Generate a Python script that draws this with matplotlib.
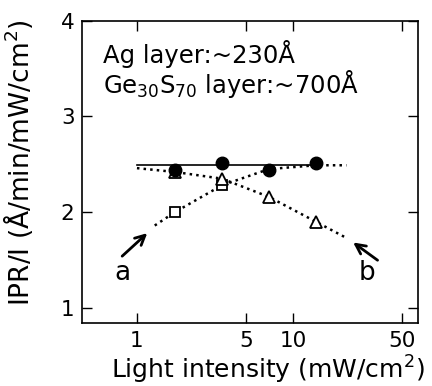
import matplotlib.pyplot as plt
from matplotlib.ticker import FixedLocator, NullLocator

# light intensity (mW/cm^2) and IPR/I values
x_meas = [1.75, 3.5, 7, 14]
ipr_filled = [2.44, 2.51, 2.44, 2.51]
x_sq = [1.75, 3.5]
ipr_sq = [2.0, 2.28]
x_tri = [1.75, 3.5, 7, 14]
ipr_tri = [2.42, 2.35, 2.16, 1.9]

# guide curves
fit_x = [1.0, 14]
fit_y = [2.49, 2.49]
a_x = [1.3, 1.75, 3.5, 7, 14, 22]
a_y = [1.86, 2.0, 2.28, 2.45, 2.49, 2.49]
b_x = [1.0, 1.75, 3.5, 7, 14, 22]
b_y = [2.46, 2.42, 2.35, 2.16, 1.9, 1.73]

xticks = [1, 5, 10, 50]
yticks = [1, 2, 3, 4]

fig = plt.figure(figsize=(4.32, 3.86), dpi=100)
ax = fig.add_axes([0.19, 0.163, 0.777, 0.783])

ax.plot(fit_x, fit_y, "-", color="black", lw=1.2)
ax.plot(a_x, a_y, ":", color="black", lw=1.8)
ax.plot(b_x, b_y, ":", color="black", lw=1.8)

ax.plot(x_sq, ipr_sq, "s", ms=7, mfc="white", mec="black", mew=1.3, ls="none")
ax.plot(x_tri, ipr_tri, "^", ms=8, mfc="white", mec="black", mew=1.3, ls="none")
ax.plot(x_meas, ipr_filled, "o", ms=9, color="black", ls="none")

ax.set_xscale("log")
ax.set_xlim(0.445, 63)
ax.set_ylim(0.84, 4.0)
ax.xaxis.set_major_locator(FixedLocator(xticks))
ax.xaxis.set_minor_locator(NullLocator())
ax.set_xticklabels([str(t) for t in xticks])
ax.set_yticks(yticks)
ax.tick_params(direction="in", top=True, right=True, length=7, width=1,
               labelsize=15.5, pad=5.5)
for s in ax.spines.values():
    s.set_linewidth(1.2)

ax.set_xlabel("Light intensity (mW/cm$^2$)", fontsize=18)
ax.xaxis.label.set_va("baseline")
ax.xaxis.set_label_coords(0.554, -0.183)
ax.set_ylabel("IPR/I (Å/min/mW/cm$^2$)", fontsize=19)
ax.yaxis.set_label_coords(-0.14, 0.53)

ax.text(0.063, 0.861, "Ag layer:~230Å", transform=ax.transAxes, fontsize=17.5)
ax.text(0.063, 0.762, "Ge$_{30}$S$_{70}$ layer:~700Å", transform=ax.transAxes, fontsize=17.5)

arrow = dict(arrowstyle="->,head_length=0.7,head_width=0.35", color="black", lw=2)
ax.annotate("", xy=(1.2, 1.8), xytext=(0.78, 1.52), arrowprops=arrow)
ax.annotate("", xy=(23.5, 1.7), xytext=(36, 1.48), arrowprops=arrow)
ax.text(0.81, 1.36, "a", fontsize=19, ha="center", va="center")
ax.text(29.8, 1.36, "b", fontsize=19, ha="center", va="center")

fig.savefig("out.png", dpi=100)
